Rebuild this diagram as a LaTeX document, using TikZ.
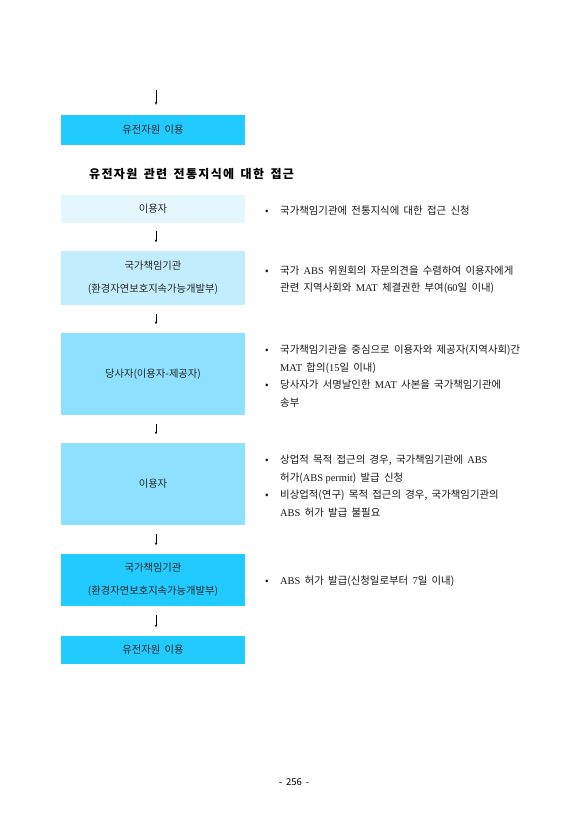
\documentclass[tikz,border=0pt]{standalone}
\usepackage{fontspec}
\usepackage{tikz}
\usetikzlibrary{positioning,arrows.meta}
\setmainfont{Noto Sans CJK KR}[WordSpace=1.85]
\newfontfamily\latinfont{Liberation Serif}
\newfontfamily\headfont[LetterSpace=11, BoldFeatures={LetterSpace=11}, WordSpace=1.6]{Noto Sans CJK KR}
\newcommand{\latn}[1]{{\latinfont #1}}
\newcommand{\bul}{\makebox[15pt][l]{\textbullet}}
\newcommand{\ind}{\hspace*{15pt}}
\definecolor{deepcyan}{HTML}{22CBFF}
\definecolor{midblue}{HTML}{8EE0FF}
\definecolor{lightblue}{HTML}{C2EDFD}
\definecolor{paleblue}{HTML}{E4F7FD}
\tikzset{
    flow-box/.style = {rectangle, minimum width=184pt, inner sep=0pt, align=center, text=black!85, font=\fontsize{10.3}{23}\selectfont},
    flow-arrow/.style = {-{Stealth[length=2.8pt,width=2.2pt]}, line width=0.4pt, shorten <=8.5pt, shorten >=8.5pt},
    note-text/.style = {anchor=west, align=left, inner sep=0pt, text=black!90, font=\fontsize{10.4}{17.5}\selectfont},
    section-title/.style = {anchor=west, inner sep=0pt, font=\headfont\bfseries\fontsize{12}{14}\selectfont},
}

\begin{document}
\begin{tikzpicture}[x=1pt,y=-1pt]
\useasboundingbox[fill=white] (0,0) rectangle (587,830);

% end of the previous page's flow
\coordinate (start) at (156,90);
\node[flow-box, fill=deepcyan, minimum height=30pt] (use-top) at (153,130) {유전자원 이용};
\draw[flow-arrow, shorten <=0pt, shorten >=10pt] (start) -- (start |- use-top.north);

\node[section-title] (title) at (89,174) {유전자원 관련 전통지식에 대한 접근};

% flow of boxes
\node[flow-box, fill=paleblue, minimum height=28pt] (user-a) at (153,208.5) {이용자};
\node[flow-box, fill=lightblue, minimum height=54pt] (agency-a) at (153,278) {국가책임기관\\(환경자연보호지속가능개발부)};
\node[flow-box, fill=midblue, minimum height=82pt] (parties) at (153,374) {당사자(이용자-제공자)};
\node[flow-box, fill=midblue, minimum height=82pt] (user-b) at (153,484) {이용자};
\node[flow-box, fill=deepcyan, minimum height=52pt] (agency-b) at (153,580) {국가책임기관\\(환경자연보호지속가능개발부)};
\node[flow-box, fill=deepcyan, minimum height=28pt] (use-bottom) at (153,650) {유전자원 이용};

\foreach \a/\b in {user-a/agency-a, agency-a/parties, parties/user-b, user-b/agency-b, agency-b/use-bottom}
    \draw[flow-arrow] ([xshift=3pt]\a.south) -- ([xshift=3pt]\b.north);

% notes on the right
\node[note-text] (note-a) at (265,210.5) {\bul 국가책임기관에 전통지식에 대한 접근 신청};
\node[note-text] (note-b) at (265,279.5) {\bul 국가 \latn{ABS} 위원회의 자문의견을 수렴하여 이용자에게\\
    \ind 관련 지역사회와 \latn{MAT} 체결권한 부여(\latn{60}일 이내)};
\node[note-text] (note-c) at (265,376) {\bul 국가책임기관을 중심으로 이용자와 제공자(지역사회)간\\
    \ind \latn{MAT} 합의(\latn{15}일 이내)\\
    \bul 당사자가 서명날인한 \latn{MAT} 사본을 국가책임기관에\\
    \ind 송부};
\node[note-text] (note-d) at (265,486) {\bul 상업적 목적 접근의 경우, 국가책임기관에 \latn{ABS}\\
    \ind 허가(\latn{ABS permit}) 발급 신청\\
    \bul 비상업적(연구) 목적 접근의 경우, 국가책임기관의\\
    \ind \latn{ABS} 허가 발급 불필요};
\node[note-text] (note-e) at (265,581.5) {\bul \latn{ABS} 허가 발급(신청일로부터 \latn{7}일 이내)};

\node[font=\fontsize{9.5}{11}\selectfont] (page) at (294,782) {-\hspace{4pt}256\hspace{4pt}-};
\end{tikzpicture}
\end{document}
